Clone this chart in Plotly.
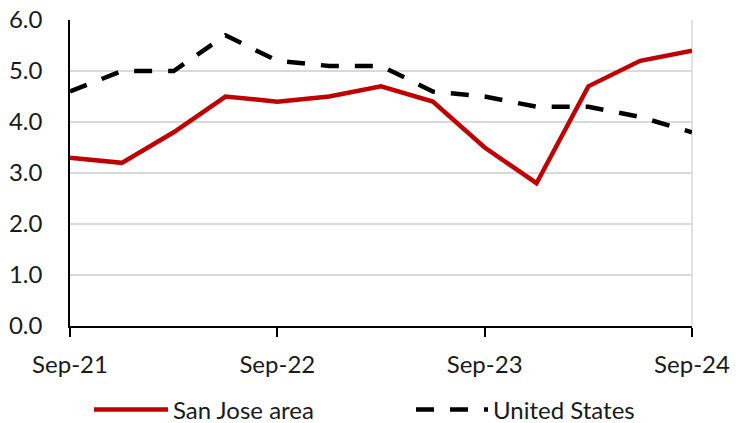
import plotly.graph_objects as go

quarters = ["Sep-21", "Dec-21", "Mar-22", "Jun-22", "Sep-22", "Dec-22", "Mar-23",
            "Jun-23", "Sep-23", "Dec-23", "Mar-24", "Jun-24", "Sep-24"]
san_jose = [3.3, 3.2, 3.8, 4.5, 4.4, 4.5, 4.7, 4.4, 3.5, 2.8, 4.7, 5.2, 5.4]
united_states = [4.6, 5.0, 5.0, 5.7, 5.2, 5.1, 5.1, 4.6, 4.5, 4.3, 4.3, 4.1, 3.8]
tick_labels = ["Sep-21", "Sep-22", "Sep-23", "Sep-24"]
y_ticks = [0, 1, 2, 3, 4, 5, 6]

x = list(range(len(quarters)))
tick_pos = [quarters.index(t) for t in tick_labels]

FONT = "Lato, Carlito, Calibri, sans-serif"
W, H = 745, 423

fig = go.Figure()
fig.add_trace(go.Scatter(x=x, y=san_jose, mode="lines", name="San Jose area",
                         line=dict(color="#C00000", width=4.5), cliponaxis=False,
                         legend="legend"))
fig.add_trace(go.Scatter(x=x, y=united_states, mode="lines", name="United States",
                         line=dict(color="#000000", width=4.5, dash="18px,16px"),
                         cliponaxis=False, legend="legend2"))

leg_common = dict(orientation="h", xref="container", yref="container",
                  yanchor="middle", xanchor="left", font=dict(size=24, color="#1a1a1a"),
                  bgcolor="rgba(0,0,0,0)")

fig.update_layout(
    width=W, height=H,
    margin=dict(l=70, r=745 - 692, t=20, b=423 - 326, autoexpand=False),
    paper_bgcolor="white", plot_bgcolor="white",
    font=dict(family=FONT, size=24, color="#1a1a1a"),
    showlegend=True,
    legend=dict(**leg_common, x=(94 - 5) / W, y=1 - 410 / H, itemwidth=74),
    legend2=dict(**leg_common, x=(416 - 5) / W, y=1 - 410 / H, itemwidth=72),
    xaxis=dict(range=[0, 12], tickvals=tick_pos, ticktext=tick_labels,
               showgrid=False, zeroline=False, showline=True, linecolor="black",
               linewidth=1.5, ticks="outside", ticklen=9, tickwidth=1.5,
               tickcolor="black", ticklabelstandoff=7),
    yaxis=dict(range=[0, 6.001], tickvals=y_ticks, tickformat=".1f",
               showgrid=True, gridcolor="#d9d9d9", gridwidth=1.5,
               zeroline=False, showline=True, linecolor="black", linewidth=1.5,
               ticks="", ticklabelstandoff=21, ticklabeloverflow="allow"),
    shapes=[dict(type="line", xref="paper", yref="paper", x0=1, x1=1, y0=0, y1=1,
                 line=dict(color="#d9d9d9", width=1.5), layer="below")],
)

fig.write_html("out.html", config={"displayModeBar": False},
               post_script="document.body.style.margin='0';document.body.style.overflow='hidden';")
